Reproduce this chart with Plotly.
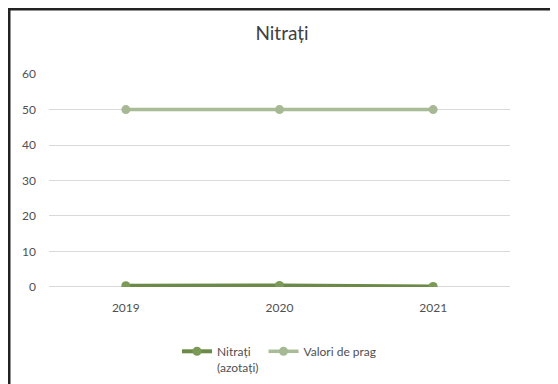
import plotly.graph_objects as go

# Data
years = ['2019', '2020', '2021']
nitrati = [0.3, 0.4, 0.1]
valori_prag = [50, 50, 50]

fig = go.Figure()

fig.add_trace(go.Scatter(x=years, y=nitrati, name='Nitrați<br>(azotați)', mode='lines+markers',
                         line=dict(color='#6b8a47', width=4),
                         marker=dict(color='#7a9a55', size=9)))
fig.add_trace(go.Scatter(x=years, y=valori_prag, name='Valori de prag', mode='lines+markers',
                         line=dict(color='#a9bc98', width=3.5),
                         marker=dict(color='#a6b994', size=9)))

# page has an 8px body margin: shift everything up/left by 8px,
# the extra 8px at right/bottom simply falls outside the window
W, H = 558, 384
L, R, T, B = 41, 56, 66, 105
pw, ph = W - L - R, H - T - B

fig.update_layout(
    width=W, height=H,
    margin=dict(l=L, r=R, t=T, b=B, autoexpand=False),
    paper_bgcolor='white', plot_bgcolor='white',
    font=dict(family='Lato, Open Sans, sans-serif', size=12, color='#505050'),
    title=dict(text='Nitrați', x=(282 - 8) / W, xanchor='center', y=1 - 25 / H, yanchor='middle',
               font=dict(size=19, color='#404040')),
    xaxis=dict(showgrid=False, showline=False, ticks='', range=[-0.5, 2.5],
               ticklabelstandoff=12, tickfont=dict(size=12)),
    yaxis=dict(range=[-0.05, 60.05], dtick=10, gridcolor='#d9d9d9', gridwidth=1,
               zeroline=True, zerolinecolor='#d9d9d9', zerolinewidth=1,
               showline=False, ticks='', ticklabelstandoff=12, tickfont=dict(size=12)),
    legend=dict(orientation='h', x=0.50, xanchor='center', y=-(329 - (H - B)) / ph, yanchor='top',
                font=dict(size=12), valign='top'),
    showlegend=True,
)

# scanned page border lines
fig.add_shape(type='line', xref='paper', yref='paper', x0=-(L - 1) / pw, x1=-(L - 1) / pw,
              y0=-B / ph, y1=1 + (T - 1) / ph, line=dict(color='#222222', width=3))
fig.add_shape(type='line', xref='paper', yref='paper', x0=-L / pw, x1=1 + R / pw,
              y0=1 + (T - 1) / ph, y1=1 + (T - 1) / ph, line=dict(color='#222222', width=3))

fig.write_html('out.html')
